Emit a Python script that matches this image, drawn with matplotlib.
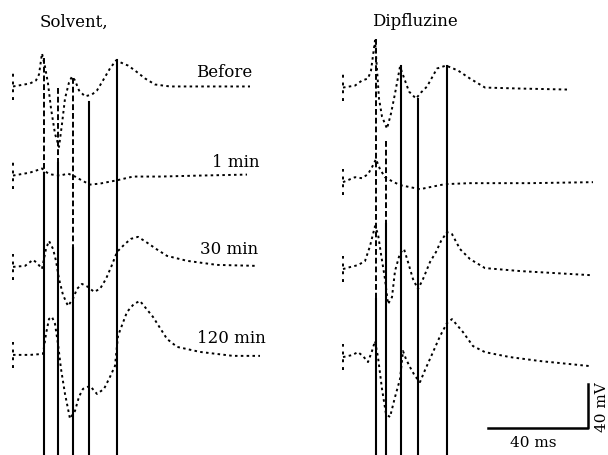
import numpy as np
import matplotlib.pyplot as plt

# time in ms from sweep start, voltage in mV from each record's baseline
labels = ["Before", "1 min", "30 min", "120 min"]

solv_before_t = [0, 6.8, 9.2, 10.4, 11.6, 12.8, 14, 15.2, 16.8, 18.4, 19.6, 20.8, 22.4, 23.6, 24.8,
                 26.4, 28.8, 31.6, 33.6, 36, 38.8, 41.2, 46, 48.8, 52.8, 56.8, 62.8, 94.8]
solv_before_v = [0, 2.7, 5.5, 10.9, 30, 18, 2.7, -20, -43, -55, -34, -11, 3.6, 9.1, 5.5,
                 -3.6, -9, -7.3, -3.6, 5.5, 16.4, 23.6, 19, 14.5, 7.3, 1.8, 0, 0]
solv_1min_t = [0, 6.8, 9.2, 11.6, 13.6, 15.6, 18.8, 22, 24.8, 27.6, 30.8, 34.8, 38.8, 41.2,
               48, 58.8, 74.8, 93.6]
solv_1min_v = [0, 2.7, 4.5, 6.4, 2.7, 0.9, 0, 1.8, -0.9, -4.5, -8.2, -7.3, -5.5, -4.5,
               -0.9, -0.9, 0, 0.9]
solv_30min_t = [0, 4.8, 8, 9.6, 11.6, 13.2, 14.4, 16, 17.2, 18.4, 20, 22, 24, 25.6, 27.6, 30,
                32.4, 34.8, 37.2, 39.6, 41.6, 44.8, 47.2, 50, 53.2, 57.2, 61.6, 69.6, 81.6, 97.6]
solv_30min_v = [0, 0.9, 6.4, 3.6, -1.8, 16.4, 23.6, 16.4, 5.5, -10.9, -25.5, -35.5, -29, -20,
                -15.5, -18.2, -22.7, -20, -10.9, 1.8, 13.6, 20.9, 25.5, 27.3, 22.7, 16.4, 10,
                5.5, 1.8, 0.9]
solv_120min_t = [0, 6.8, 12, 13.2, 14.4, 15.6, 16.8, 18, 19.2, 20.8, 22.8, 24.8, 26.4, 28, 30.8,
                 33.6, 36.4, 38.8, 40.8, 42, 45.6, 48.4, 50.8, 56, 61.6, 65.6, 74.8, 88, 98.8]
solv_120min_v = [0, 0, 0.9, 19, 32.7, 34.5, 28.2, 10, -12.7, -35.5, -58, -50.9, -38, -30.9,
                 -28.2, -35.5, -30.9, -20, -10, 17.3, 39, 46.4, 49, 34.5, 14.5, 7.3, 2.7, -0.9, -0.9]

dipf_before_t = [0, 4.8, 7.6, 10, 11.2, 12.8, 14.4, 15.6, 17.6, 19.2, 20.8, 22.8, 24.8, 26.4,
                 29.2, 31.2, 33.6, 37.6, 41.2, 46, 50.8, 56.8, 70.8, 89.6]
dipf_before_v = [0, 1.8, 6.4, 8.2, 15.5, 42.7, -10, -26.4, -37.3, -23.6, -5.5, 19, 6.4, -3.6,
                 -10, -4.5, 0.9, 17.3, 20, 15.5, 8.2, 0, -0.9, -1.8]
dipf_1min_t = [0, 4.8, 7.6, 10, 11.6, 13.2, 14.8, 16.8, 19.6, 22.8, 26.8, 30.8, 34.8, 40.8,
               50.8, 74.8, 100]
dipf_1min_v = [0, 4.5, 3.6, 7.3, 13.6, 20.9, 11.8, 4.5, 0.9, -2.7, -4.5, -6.4, -4.5, -1.8,
               -0.9, -0.9, 0]
dipf_30min_t = [0, 2.8, 6, 8.8, 10.8, 12.8, 14, 15.2, 16.8, 18, 19.6, 20.8, 22.8, 24.4, 26, 28,
                30, 32, 34.8, 37.2, 39.2, 41.6, 43.6, 46.8, 50.8, 56.8, 70.8, 98.8]
dipf_30min_v = [0, 1.8, 3.6, 7.3, 20.9, 39, 31.8, 13.6, -9.1, -31.8, -25.5, -1.8, 14.5, 18.2,
                6.4, -9.1, -18.2, -9.1, 6.4, 15.5, 25.5, 33.6, 31.8, 18.2, 9.1, 0.9, -1.8, -5.5]
dipf_120min_t = [0, 3.6, 6, 8, 10, 11.6, 12.8, 14, 15.6, 17.2, 18.8, 20.8, 22.8, 24, 25.2, 26.8,
                 28.8, 30.8, 32.8, 36, 38.8, 41.6, 43.6, 48, 52, 56.8, 66.8, 78.8, 98.8]
dipf_120min_v = [0, 1.8, 4.5, 0.9, -4.5, 5.5, 14.5, 0, -29, -51.8, -54.5, -36.4, -20, 5.5, -1.8,
                 -9.1, -17.3, -22.7, -11.8, 4.5, 19, 30.9, 34.5, 22.7, 10, 4.5, 0, -3.6, -8.2]

# fast deflections (drawn as vertical strokes): time, top and start of solid part,
# mV relative to the "Before" baseline
solv_spike_t = [12.4, 18, 24, 30.4, 41.6]
solv_spike_top = [25.5, -1.8, 7.3, -14.5, 23.6]
solv_spike_solid = [-79, -70, -147, -14.5, 23.6]
dipf_spike_t = [13.2, 17.2, 23.2, 30, 41.6]
dipf_spike_top = [44.5, -49, 20, -10, 20]
dipf_spike_solid = [-192, -124, 20, -10, 20]

# layout (px scale: 2.5 px per ms, 1.1 px per mV)
fig = plt.figure(figsize=(6.08, 4.56), dpi=100)
ax = fig.add_axes([0, 0, 1, 1])
ax.set_xlim(-5.2, 238)
ax.set_ylim(0, 414.5)
ax.axis("off")

panels = [
    dict(t0=0, base=[335, 254, 171, 91], lab_x=[95.6, 98.8, 98, 101.2], lab_dy=[13.6, 12.7, 17, 16],
         traces=[(solv_before_t, solv_before_v), (solv_1min_t, solv_1min_v),
                 (solv_30min_t, solv_30min_v), (solv_120min_t, solv_120min_v)],
         sp=(solv_spike_t, solv_spike_top, solv_spike_solid)),
    dict(t0=132, base=[334, 248, 169, 89], lab_x=None, lab_dy=None,
         traces=[(dipf_before_t, dipf_before_v), (dipf_1min_t, dipf_1min_v),
                 (dipf_30min_t, dipf_30min_v), (dipf_120min_t, dipf_120min_v)],
         sp=(dipf_spike_t, dipf_spike_top, dipf_spike_solid)),
]

dots = (0, (1.3, 1.7))
for p in panels:
    for i, (t, v) in enumerate(p["traces"]):
        t = np.array(t) + p["t0"]
        v = np.array(v) + p["base"][i]
        ax.plot(t, v, color="black", lw=1.4, linestyle=dots)
        ax.plot([p["t0"], p["t0"]], [p["base"][i] - 12, p["base"][i] + 12],
                color="black", lw=1.4, linestyle=(0, (1.5, 2.5)))
        if p["lab_x"] is not None:
            ax.text(p["lab_x"][i], p["base"][i] + p["lab_dy"][i], labels[i], ha="right",
                    va="center", fontsize=12, family="DejaVu Serif")
    b0 = p["base"][0]
    for st, top, solid in zip(*p["sp"]):
        x = st + p["t0"]
        if solid < top:
            ax.plot([x, x], [b0 + top, b0 + solid], color="black", lw=1.4, linestyle=(0, (3, 1.5)))
        ax.plot([x, x], [b0 + solid, -50], color="black", lw=1.5)

ax.text(10.8, 394.5, "Solvent,", ha="left", va="center", fontsize=12, family="DejaVu Serif")
ax.text(143.6, 395, "Dipfluzine", ha="left", va="center", fontsize=12, family="DejaVu Serif")

# scale bar: 40 ms x 40 mV
ax.plot([190, 230, 230], [24.5, 24.5, 64.5], color="black", lw=1.8)
ax.text(208, 11.8, "40 ms", ha="center", va="center", fontsize=11, family="DejaVu Serif")
ax.text(235.6, 44.5, "40 mV", ha="center", va="center", rotation=90, fontsize=11,
        family="DejaVu Serif")

fig.savefig("out.png", dpi=100)
